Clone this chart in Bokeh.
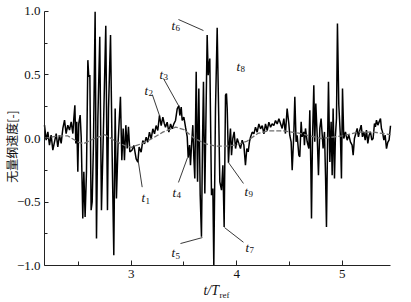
from bokeh.plotting import figure
from bokeh.models import FixedTicker, Label, Range1d
from bokeh.embed import file_html
from bokeh.resources import INLINE
import math

# ---- data ----
time = [2.178, 2.194, 2.210, 2.225, 2.241, 2.257, 2.273, 2.289, 2.304, 2.320,
        2.336, 2.352, 2.368, 2.383, 2.399, 2.415, 2.431, 2.447, 2.456, 2.466,
        2.475, 2.484, 2.494, 2.503, 2.516, 2.526, 2.541, 2.551, 2.563, 2.576,
        2.589, 2.598, 2.608, 2.620, 2.630, 2.642, 2.658, 2.671, 2.684, 2.702,
        2.718, 2.734, 2.759, 2.775, 2.785, 2.804, 2.819, 2.835, 2.848, 2.860,
        2.876, 2.898, 2.911, 2.924, 2.936, 2.949, 2.962, 2.974, 2.987,
        3.006, 3.025, 3.047, 3.063, 3.075, 3.094, 3.110, 3.126, 3.142, 3.157,
        3.173, 3.189, 3.205, 3.221, 3.236, 3.252, 3.268, 3.284, 3.300,
        3.313, 3.325, 3.341, 3.357, 3.373, 3.389, 3.404, 3.420, 3.436, 3.452,
        3.461, 3.474, 3.483, 3.499, 3.515,
        3.531, 3.540, 3.553, 3.562, 3.572, 3.584, 3.594, 3.603, 3.616, 3.629,
        3.641, 3.654, 3.666, 3.676, 3.685, 3.698, 3.720, 3.730, 3.736, 3.745,
        3.761, 3.774, 3.783, 3.799, 3.815, 3.831, 3.840, 3.856, 3.869, 3.881,
        3.894, 3.903, 3.910, 3.922, 3.932, 3.941, 3.951, 3.963, 3.976, 3.989,
        4.005, 4.020, 4.036, 4.052, 4.068, 4.083, 4.096, 4.109, 4.121,
        4.131, 4.147, 4.163, 4.178, 4.194, 4.210, 4.226, 4.242, 4.258, 4.273,
        4.289, 4.305, 4.321, 4.336, 4.352, 4.368, 4.384, 4.400,
        4.431, 4.447, 4.462, 4.478, 4.494, 4.503, 4.516, 4.526, 4.541, 4.551,
        4.563, 4.573, 4.589, 4.598, 4.611, 4.620, 4.636, 4.642, 4.652, 4.668,
        4.684, 4.693, 4.703, 4.709, 4.718, 4.731, 4.740, 4.750, 4.763, 4.775,
        4.788, 4.800, 4.813, 4.819, 4.832, 4.842, 4.851, 4.861, 4.870, 4.883,
        4.895, 4.905, 4.914, 4.927, 4.936, 4.946, 4.955, 4.968, 4.984, 4.993,
        5.003, 5.015, 5.031, 5.047, 5.063, 5.078, 5.094, 5.104, 5.116, 5.129,
        5.142, 5.154, 5.167, 5.180, 5.192, 5.205, 5.218, 5.230, 5.243, 5.255,
        5.268, 5.281, 5.293, 5.306, 5.315, 5.325, 5.338, 5.350, 5.363, 5.372,
        5.382, 5.395, 5.407, 5.420, 5.432, 5.445, 5.458]

speed = [0.105, -0.013, 0.052, -0.052, 0.026, -0.092, -0.026, 0.039, -0.066, 0.026,
         -0.039, 0.079, 0.144, 0.039, 0.105, 0.066, 0.131, 0.039, 0.157, 0.262,
         -0.039, 0.131, -0.262, 0.118, 0.184, 0.013, -0.630, -0.262, -0.617, -0.262,
         0.617, 0.486, 0.499, -0.564, -0.499, -0.052, 0.997, -0.787, 0.157, 0.801,
         -0.564, -0.026, 0.887, -0.564, 0.236, 0.814, -0.105, -0.919, 0.236, -0.472,
         -0.026, 0.328, -0.171, 0.079, -0.171, 0.105, -0.079, 0.092, -0.105,
         -0.094, -0.055, -0.160, -0.186, -0.068, -0.108, -0.016, -0.042, 0.010, -0.029,
         0.050, -0.003, 0.076, 0.037, 0.102, 0.063, 0.182, 0.102, 0.168,
         0.120, 0.089, 0.129, 0.050, 0.115, 0.076, 0.115, 0.142, 0.234, 0.260,
         0.181, 0.247, 0.142, 0.168, 0.089,
         0.013, -0.150, -0.052, -0.210, -0.052, 0.105, -0.157, -0.315, 0.525, -0.341,
         0.394, -0.446, -0.774, -0.026, 0.446, -0.433, 0.814, 0.499, 0.564, 0.630,
         -0.446, -0.394, -1.000, 0.236, 0.871, 0.105, -0.341, -0.407, -0.210, -0.696,
         0.341, 0.354, 0.236, -0.190, -0.026, 0.079, -0.131, 0.000, 0.052, -0.079,
         0.000, -0.039, -0.079, -0.013, -0.052, -0.210, -0.079, -0.105, -0.026,
         0.010, 0.050, 0.037, 0.089, 0.050, 0.115, 0.076, 0.102, 0.037, 0.115,
         0.063, 0.129, 0.089, 0.115, 0.102, 0.142, 0.115, 0.155,
         0.079, 0.157, 0.039, 0.236, 0.118, 0.026, -0.026, -0.249, 0.026, 0.328,
         -0.026, 0.026, -0.131, -0.144, 0.131, 0.013, 0.052, -0.052, 0.079, -0.026,
         -0.079, 0.223, -0.236, -0.630, -0.026, 0.420, -0.026, 0.276, 0.026, -0.289,
         0.079, 0.157, 0.000, -0.079, 0.052, -0.289, -0.696, -0.052, 0.446, -0.184,
         0.131, -0.289, 0.236, -0.315, 0.026, 0.157, 0.906, 0.262, 0.000, -0.315,
         0.394, 0.000, 0.052, -0.013, 0.026, -0.026, -0.052, -0.131, 0.000, 0.039,
         0.079, 0.013, 0.066, 0.105, 0.013, 0.052, -0.013, 0.066, -0.039, 0.026,
         0.052, -0.013, 0.000, 0.118, 0.092, 0.144, 0.105, 0.131, 0.157, 0.079,
         0.052, -0.013, 0.026, -0.080, -0.030, -0.010, 0.100]

trend_t = [2.178, 2.30, 2.40, 2.50, 2.55, 2.65, 2.75, 2.85, 2.95, 3.00, 3.10, 3.20,
           3.30, 3.42, 3.50, 3.60, 3.70, 3.80, 3.90, 4.00, 4.10, 4.20, 4.30, 4.45,
           4.60, 4.80, 5.00, 5.15, 5.30, 5.458]
trend_v = [0.00, 0.02, 0.02, -0.03, -0.04, 0.00, 0.03, -0.02, -0.06, -0.07, -0.04, 0.00,
           0.05, 0.09, 0.07, 0.00, -0.04, -0.06, -0.06, -0.05, -0.02, 0.04, 0.06, 0.06,
           0.04, 0.00, 0.02, 0.05, 0.05, 0.03]

t_min, t_max = 2.178, 5.458
v_min, v_max = -1.0, 1.0
x_ticks = [3, 4, 5]
x_minor = [2.5, 3.5, 4.5]
y_ticks = [-1.0, -0.5, 0.0, 0.5, 1.0]
y_minor = [-0.75, -0.25, 0.25, 0.75]
y_labels = ["\u22121.0", "\u22120.5", "0.0", "0.5", "1.0"]

ann_num = ["1", "2", "3", "4", "5", "6", "7", "8", "9"]
ann_x = [3.098, 3.126, 3.268, 3.391, 3.382, 3.382, 4.083, 3.998, 4.074]
ann_y = [-0.465, 0.378, 0.504, -0.425, -0.898, 0.890, -0.858, 0.567, -0.417]

lead_x0 = [3.066, 3.200, 3.306, 3.448, 3.467, 3.448, 4.064, 4.064]
lead_y0 = [-0.173, 0.346, 0.472, -0.346, -0.827, 0.937, -0.817, -0.354]
lead_x1 = [3.104, 3.268, 3.448, 3.534, 3.675, 3.685, 3.884, 3.922]
lead_y1 = [-0.383, 0.181, 0.260, -0.150, -0.780, 0.850, -0.701, -0.189]

SERIF = "Liberation Serif"
INK = "#111111"

# frame covers the whole canvas; axes are pinned at the data edges
p = figure(width=411, height=302,
           x_range=Range1d(1.761, 5.657), y_range=Range1d(-1.2913, 1.0866),
           output_backend="svg", toolbar_location=None,
           min_border=0, min_border_left=0, min_border_right=0,
           min_border_top=0, min_border_bottom=0)
p.outline_line_color = None
p.xgrid.visible = False
p.ygrid.visible = False
p.background_fill_color = "white"
p.border_fill_color = "white"

for ax in (p.xaxis[0], p.yaxis[0]):
    ax.axis_line_color = "#222222"
    ax.axis_line_width = 1
    ax.major_tick_line_color = "#222222"
    ax.minor_tick_line_color = "#222222"
    ax.major_tick_out = 0
    ax.minor_tick_out = 0
    ax.major_label_text_font = SERIF
    ax.major_label_text_font_size = "13px"
    ax.major_label_text_color = INK

p.xaxis.fixed_location = v_min
p.xaxis.bounds = (t_min, t_max)
p.xaxis.ticker = FixedTicker(ticks=x_ticks, minor_ticks=x_minor)
p.xaxis.major_tick_in = 5
p.xaxis.minor_tick_in = 4
p.xaxis.major_label_standoff = 4
p.xaxis.major_label_overrides = {t: str(t) for t in x_ticks}

p.yaxis.fixed_location = t_min
p.yaxis.bounds = (v_min, v_max)
p.yaxis.ticker = FixedTicker(ticks=y_ticks, minor_ticks=y_minor)
p.yaxis.major_tick_in = 4
p.yaxis.minor_tick_in = 3
p.yaxis.major_label_standoff = 4
p.yaxis.major_label_overrides = {t: s for t, s in zip(y_ticks, y_labels)}

p.line(time, speed, line_color="black", line_width=1.5)
p.line(trend_t, trend_v, line_color="#6e6e6e", line_width=1.3, line_dash="5 2")

p.segment(x0=lead_x0, y0=lead_y0, x1=lead_x1, y1=lead_y1, line_color="#222222", line_width=0.9)

for n, lx, ly in zip(ann_num, ann_x, ann_y):
    p.add_layout(Label(x=lx, y=ly, text="t", text_font=SERIF, text_font_style="italic",
                       text_font_size="13px", text_color=INK, text_baseline="alphabetic"))
    p.add_layout(Label(x=lx, y=ly, x_offset=4, y_offset=-3, text=n, text_font=SERIF,
                       text_font_size="9px", text_color=INK, text_baseline="alphabetic"))

# axis titles
p.add_layout(Label(x=1.862, y=-0.063, text="无量纲速度[-]", angle=math.pi / 2,
                   text_font="Noto Sans CJK SC", text_font_size="12px", text_color=INK,
                   text_align="center", text_baseline="middle"))
p.add_layout(Label(x=3.685, y=-1.197, text="t/T", text_font=SERIF, text_font_style="italic",
                   text_font_size="14px", text_color=INK, text_baseline="alphabetic"))
p.add_layout(Label(x=3.685, y=-1.197, x_offset=16, y_offset=-4, text="ref", text_font=SERIF,
                   text_font_size="9px", text_color=INK, text_baseline="alphabetic"))

open("out.html", "w").write(file_html(p, INLINE))
